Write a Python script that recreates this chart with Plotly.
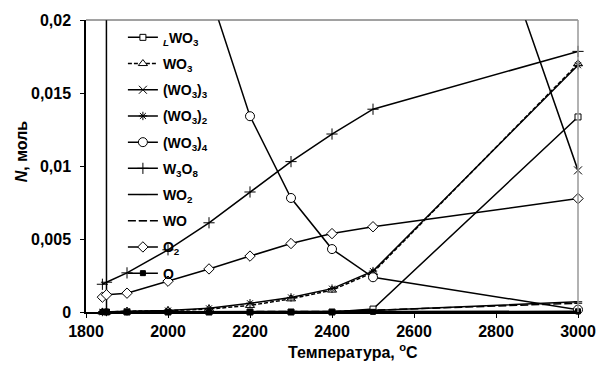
import plotly.graph_objects as go

# ---- data ----
temps = [1840, 1850, 1900, 2000, 2100, 2200, 2300, 2400, 2500, 3000]

names = ["<sub><i>L</i></sub>WO<sub>3</sub>", "WO<sub>3</sub>", "(WO<sub>3</sub>)<sub>3</sub>",
         "(WO<sub>3</sub>)<sub>2</sub>", "(WO<sub>3</sub>)<sub>4</sub>", "W<sub>3</sub>O<sub>8</sub>",
         "WO<sub>2</sub>", "WO", "O<sub>2</sub>", "O"]

LWO3 = [1.0, 0, 0, 0, 0, 0, 0, 0, 0.0002, 0.01336]
WO3 = [0, 0, 0.00005, 0.0001, 0.0002, 0.00045, 0.0009, 0.0015, 0.0027, 0.0170]
WO3_3 = [0.1, 0.1, 0.095, 0.085, 0.075, 0.068, 0.062, 0.056, 0.050, 0.0097]
WO3_2 = [0, 0, 0.00005, 0.0001, 0.00025, 0.0006, 0.001, 0.0016, 0.0028, 0.0169]
WO3_4 = [0.09, 0.085, 0.07, 0.04, 0.022, 0.01341, 0.00781, 0.00431, 0.00238, 0.00016]
W3O8 = [0.0019, 0.00204, 0.00268, 0.00426, 0.00611, 0.00822, 0.0103, 0.01219, 0.01389, 0.01785]
WO2 = [0, 0, 0, 0, 0, 0, 0.00002, 0.00004, 0.0001, 0.0007]
WO = [0, 0, 0, 0, 0, 0, 0, 0.00004, 0.00012, 0.0006]
O2 = [0.00102, 0.00118, 0.00129, 0.00211, 0.00295, 0.00383, 0.00469, 0.00537, 0.00584, 0.00777]
O = [0, 0, 0, 0, 0, 0, 0, 0, 0.00001, 0.00005]

series = [LWO3, WO3, WO3_3, WO3_2, WO3_4, W3O8, WO2, WO, O2, O]

x_ticks = [1800, 2000, 2200, 2400, 2600, 2800, 3000]
x_ticktext = ["1800", "2000", "2200", "2400", "2600", "2800", "3000"]
y_ticks = [0, 0.005, 0.01, 0.015, 0.02]
y_ticktext = ["0", "0,005", "0,01", "0,015", "0,02"]

# ---- styles ----
styles = [
    dict(symbol="square", size=6, fill="white", dash="solid"),
    dict(symbol="triangle-up", size=8, fill="white", dash="4px,2px"),
    dict(symbol="x-thin", size=8, fill="black", dash="solid"),
    dict(symbol="asterisk", size=7, fill="black", dash="solid"),
    dict(symbol="circle", size=9, fill="white", dash="solid"),
    dict(symbol="cross-thin", size=8, fill="black", dash="solid"),
    dict(symbol="line-ew", size=6, fill="black", dash="solid"),
    dict(symbol="line-ew", size=6, fill="black", dash="8px,3px"),
    dict(symbol="diamond", size=8, fill="white", dash="solid"),
    dict(symbol="square", size=5, fill="black", dash="solid"),
]

FONT = "Liberation Sans, Arial, sans-serif"

fig = go.Figure()
for i, (nm, ys, st) in enumerate(zip(names, series, styles)):
    fig.add_trace(go.Scatter(
        x=temps, y=ys, name=nm, mode="lines+markers",
        legendgroup=f"g{i}",
        line=dict(color="black", width=1.5, dash=st["dash"]),
        marker=dict(symbol=st["symbol"], size=st["size"], color=st["fill"],
                    line=dict(color="black", width=1)),
        cliponaxis=False,
    ))

fig.update_layout(
    width=608, height=365,
    margin=dict(l=86, r=25, t=17, b=53),
    paper_bgcolor="white", plot_bgcolor="white",
    showlegend=True,
    legend=dict(x=0.075, y=0.994, xanchor="left", yanchor="top",
                bgcolor="rgba(0,0,0,0)", tracegroupgap=5, traceorder="grouped",
                font=dict(family=FONT, size=14, color="black", weight="bold"),
                itemwidth=30),
    font=dict(family=FONT, color="black"),
    xaxis=dict(range=[1800, 3000], tickvals=x_ticks, ticktext=x_ticktext,
               showgrid=False, zeroline=False, showline=True, linecolor="black", linewidth=1.5,
               ticks="outside", ticklen=4, tickcolor="black",
               tickfont=dict(family=FONT, size=16, color="black", weight="bold")),
    yaxis=dict(range=[0, 0.02], tickvals=y_ticks, ticktext=y_ticktext,
               showgrid=False, zeroline=False, showline=True, linecolor="black", linewidth=1.5,
               ticks="outside", ticklen=4, tickcolor="black", ticklabelstandoff=6,
               tickfont=dict(family=FONT, size=16, color="black", weight="bold")),
    shapes=[
        dict(type="line", xref="paper", yref="paper", x0=0, x1=1, y0=1, y1=1,
             line=dict(color="#444444", width=1)),
        dict(type="line", xref="paper", yref="paper", x0=1, x1=1, y0=0, y1=1,
             line=dict(color="#999999", width=1.5)),
    ],
    annotations=[
        dict(text="Температура, <sup>o</sup>C", xref="paper", yref="paper",
             x=(356 - 86) / 497, y=(311.7 - 351) / 294.4, xanchor="center", yanchor="middle",
             showarrow=False, font=dict(family=FONT, size=16, color="black", weight="bold")),
        dict(text="<i>N</i>, моль", xref="paper", yref="paper",
             x=(21 - 86) / 497, y=(311.7 - 150) / 294.4, xanchor="center", yanchor="middle",
             textangle=-90,
             showarrow=False, font=dict(family=FONT, size=16, color="black", weight="bold")),
    ],
)

fig.write_html("out.html")
